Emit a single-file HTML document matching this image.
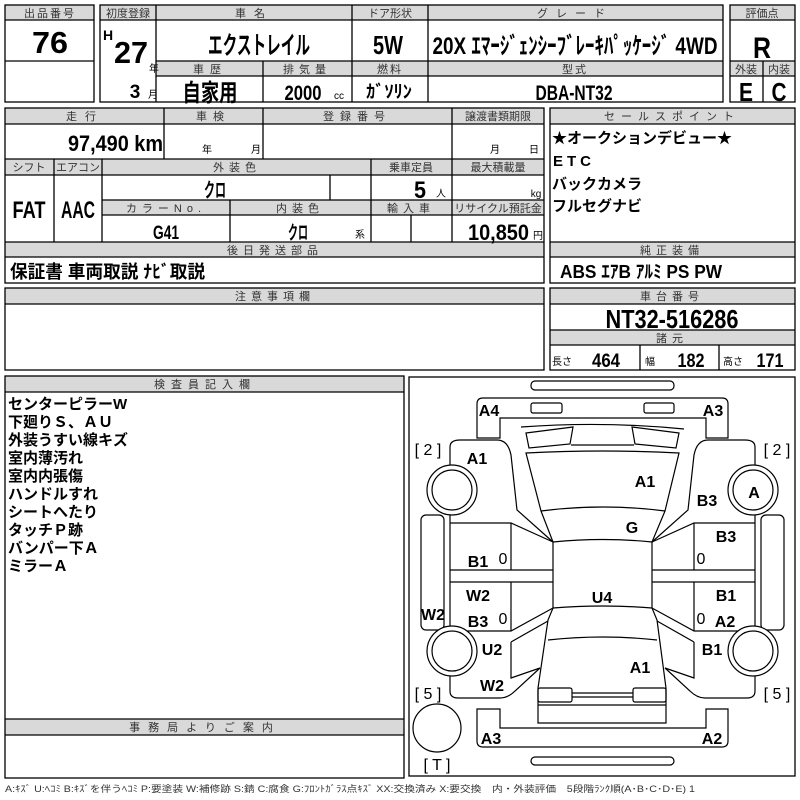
<!DOCTYPE html>
<html><head><meta charset="utf-8"><style>
html,body{margin:0;padding:0;background:#fff;}
svg{display:block;}
.h{font-family:"Liberation Sans","Noto Sans CJK JP",sans-serif;font-size:11px;fill:#333;text-anchor:middle;letter-spacing:2px;}
.b{font-family:"Liberation Sans","Noto Sans CJK JP",sans-serif;font-weight:bold;fill:#000;text-anchor:middle;}
.t{font-family:"Liberation Sans","Noto Sans CJK JP",sans-serif;font-weight:bold;font-size:15px;fill:#000;}
.s{font-family:"Liberation Sans","Noto Sans CJK JP",sans-serif;font-size:10px;fill:#000;text-anchor:middle;}
.d{font-family:"Liberation Sans",sans-serif;font-weight:bold;font-size:16px;fill:#000;text-anchor:middle;}
.dn{font-family:"Liberation Sans",sans-serif;font-size:16px;fill:#000;text-anchor:middle;}
</style></head><body>
<svg width="800" height="800" viewBox="0 0 800 800" xmlns="http://www.w3.org/2000/svg">
<g fill="#d9d9d9" stroke="none">
<rect x="5" y="5" width="89" height="15"/>
<rect x="100" y="5" width="623" height="15"/>
<rect x="156" y="61" width="567" height="15"/>
<rect x="730" y="5" width="65" height="15"/>
<rect x="730" y="61" width="65" height="15"/>
<rect x="5" y="108" width="539" height="16"/>
<rect x="5" y="159" width="539" height="16"/>
<rect x="102" y="200" width="442" height="15"/>
<rect x="5" y="242" width="539" height="15"/>
<rect x="550" y="108" width="245" height="16"/>
<rect x="550" y="242" width="245" height="15"/>
<rect x="5" y="288" width="539" height="16"/>
<rect x="550" y="288" width="245" height="16"/>
<rect x="550" y="330" width="245" height="15"/>
<rect x="5" y="376" width="399" height="16"/>
<rect x="5" y="719" width="399" height="16"/>
</g>
<g fill="none" stroke="#000" stroke-width="1.3">
<rect x="5" y="5" width="89" height="97"/>
<line x1="5" y1="20" x2="94" y2="20"/><line x1="5" y1="61" x2="94" y2="61"/>
<rect x="100" y="5" width="623" height="97"/>
<line x1="100" y1="20" x2="723" y2="20"/>
<line x1="156" y1="61" x2="723" y2="61"/><line x1="156" y1="76" x2="723" y2="76"/>
<line x1="156" y1="5" x2="156" y2="102"/><line x1="352" y1="5" x2="352" y2="102"/>
<line x1="428" y1="5" x2="428" y2="102"/><line x1="263" y1="61" x2="263" y2="102"/>
<rect x="730" y="5" width="65" height="97"/>
<line x1="730" y1="20" x2="795" y2="20"/><line x1="730" y1="61" x2="795" y2="61"/><line x1="730" y1="76" x2="795" y2="76"/>
<line x1="763" y1="61" x2="763" y2="102"/>
<rect x="5" y="108" width="539" height="175"/>
<line x1="5" y1="124" x2="544" y2="124"/><line x1="5" y1="159" x2="544" y2="159"/>
<line x1="5" y1="175" x2="544" y2="175"/><line x1="102" y1="200" x2="544" y2="200"/>
<line x1="102" y1="215" x2="544" y2="215"/><line x1="5" y1="242" x2="544" y2="242"/>
<line x1="5" y1="257" x2="544" y2="257"/>
<line x1="164" y1="108" x2="164" y2="159"/><line x1="263" y1="108" x2="263" y2="159"/>
<line x1="452" y1="108" x2="452" y2="242"/><line x1="54" y1="159" x2="54" y2="242"/>
<line x1="102" y1="159" x2="102" y2="242"/><line x1="371" y1="159" x2="371" y2="242"/>
<line x1="330" y1="175" x2="330" y2="200"/><line x1="230" y1="200" x2="230" y2="242"/>
<line x1="411" y1="215" x2="411" y2="242"/>
<rect x="550" y="108" width="245" height="175"/>
<line x1="550" y1="124" x2="795" y2="124"/><line x1="550" y1="242" x2="795" y2="242"/><line x1="550" y1="257" x2="795" y2="257"/>
<rect x="5" y="288" width="539" height="82"/><line x1="5" y1="304" x2="544" y2="304"/>
<rect x="550" y="288" width="245" height="82"/><line x1="550" y1="304" x2="795" y2="304"/>
<line x1="550" y1="330" x2="795" y2="330"/><line x1="550" y1="345" x2="795" y2="345"/>
<line x1="640" y1="345" x2="640" y2="370"/><line x1="719" y1="345" x2="719" y2="370"/>
<rect x="5" y="376" width="399" height="402"/>
<line x1="5" y1="392" x2="404" y2="392"/><line x1="5" y1="719" x2="404" y2="719"/><line x1="5" y1="735" x2="404" y2="735"/>
<rect x="409" y="377" width="386" height="399"/>
</g>
<!-- headers -->
<text class="h" x="50" y="17">出品番号</text>
<text class="h" x="128" y="17" style="letter-spacing:0">初度登録</text>
<text class="h" x="254" y="17" style="letter-spacing:8px">車名</text>
<text class="h" x="390" y="17" style="letter-spacing:0">ドア形状</text>
<text class="h" x="575" y="17" style="letter-spacing:8px">グレード</text>
<text class="h" x="762" y="17" style="letter-spacing:0">評価点</text>
<text class="h" x="210" y="73" style="letter-spacing:6px">車歴</text>
<text class="h" x="307" y="73" style="letter-spacing:5px">排気量</text>
<text class="h" x="390" y="73">燃料</text>
<text class="h" x="575" y="73">型式</text>
<text class="h" x="746" y="73" style="letter-spacing:0">外装</text>
<text class="h" x="779" y="73" style="letter-spacing:0">内装</text>
<text class="b" x="50" y="53" font-size="31" textLength="36" lengthAdjust="spacingAndGlyphs">76</text>
<text class="b" x="108" y="40" font-size="14">H</text>
<text class="b" x="131" y="63" font-size="31" textLength="34" lengthAdjust="spacingAndGlyphs">27</text>
<text class="s" x="154" y="72">年</text>
<text class="b" x="135" y="98" font-size="19">3</text>
<text class="s" x="153" y="98">月</text>
<text class="b" x="259" y="54" font-size="25" textLength="102" lengthAdjust="spacingAndGlyphs">エクストレイル</text>
<text class="b" x="388" y="54" font-size="26" textLength="30" lengthAdjust="spacingAndGlyphs">5W</text>
<text class="b" x="575" y="54" font-size="24" textLength="285" lengthAdjust="spacingAndGlyphs">20X ｴﾏｰｼﾞｪﾝｼｰﾌﾞﾚｰｷﾊﾟｯｹｰｼﾞ 4WD</text>
<text class="b" x="762" y="58" font-size="30" textLength="18" lengthAdjust="spacingAndGlyphs">R</text>
<text class="b" x="210" y="101" font-size="24" textLength="55" lengthAdjust="spacingAndGlyphs">自家用</text>
<text class="b" x="303" y="100" font-size="21" textLength="37" lengthAdjust="spacingAndGlyphs">2000</text>
<text class="s" x="339" y="99">cc</text>
<text class="b" x="389" y="98" font-size="18" textLength="46" lengthAdjust="spacingAndGlyphs">ｶﾞｿﾘﾝ</text>
<text class="b" x="574" y="100" font-size="21" textLength="77" lengthAdjust="spacingAndGlyphs">DBA-NT32</text>
<text class="b" x="746" y="101" font-size="26" textLength="14" lengthAdjust="spacingAndGlyphs">E</text>
<text class="b" x="779" y="101" font-size="26" textLength="15" lengthAdjust="spacingAndGlyphs">C</text>
<!-- section 2 -->
<text class="h" x="85" y="120" style="letter-spacing:8px">走行</text>
<text class="h" x="213" y="120" style="letter-spacing:6px">車検</text>
<text class="h" x="357" y="120" style="letter-spacing:6px">登録番号</text>
<text class="h" x="498" y="120" style="letter-spacing:0">譲渡書類期限</text>
<text class="h" x="672" y="120" style="letter-spacing:6px">セールスポイント</text>
<text class="b" x="68" y="151" font-size="22" style="text-anchor:start" textLength="95" lengthAdjust="spacingAndGlyphs">97,490 km</text>
<text class="s" x="207" y="153">年</text><text class="s" x="256" y="153">月</text>
<text class="s" x="495" y="153">月</text><text class="s" x="534" y="153">日</text>
<text class="h" x="29" y="171" style="letter-spacing:0">シフト</text>
<text class="h" x="78" y="171" style="letter-spacing:0">エアコン</text>
<text class="h" x="237" y="171" style="letter-spacing:5px">外装色</text>
<text class="h" x="411" y="171" style="letter-spacing:0">乗車定員</text>
<text class="h" x="498" y="171" style="letter-spacing:0">最大積載量</text>
<text class="b" x="215" y="197" font-size="20" textLength="22" lengthAdjust="spacingAndGlyphs">クロ</text>
<text class="b" x="420" y="198" font-size="24" textLength="12" lengthAdjust="spacingAndGlyphs">5</text>
<text class="s" x="441" y="197">人</text>
<text class="s" x="536" y="197">kg</text>
<text class="b" x="29" y="218" font-size="24" textLength="33" lengthAdjust="spacingAndGlyphs">FAT</text>
<text class="b" x="78" y="218" font-size="24" textLength="34" lengthAdjust="spacingAndGlyphs">AAC</text>
<text class="h" x="166" y="212" style="letter-spacing:5px">カラーNo.</text>
<text class="h" x="300" y="212" style="letter-spacing:5px">内装色</text>
<text class="h" x="411" y="212" style="letter-spacing:5px">輸入車</text>
<text class="h" x="498" y="212" style="letter-spacing:0">リサイクル預託金</text>
<text class="b" x="166" y="239" font-size="19" textLength="26" lengthAdjust="spacingAndGlyphs">G41</text>
<text class="b" x="298" y="239" font-size="19" textLength="20" lengthAdjust="spacingAndGlyphs">クロ</text>
<text class="s" x="360" y="238">系</text>
<text class="b" x="468" y="240" font-size="22" style="text-anchor:start" textLength="61" lengthAdjust="spacingAndGlyphs">10,850</text>
<text class="s" x="538" y="239">円</text>
<text class="h" x="275" y="254" style="letter-spacing:5px">後日発送部品</text>
<text class="b" x="10" y="278" font-size="18" style="text-anchor:start" textLength="195" lengthAdjust="spacingAndGlyphs">保証書 車両取説 ﾅﾋﾞ取説</text>
<text class="t" x="552" y="143">★オークションデビュー★</text>
<text class="t" x="553" y="166" style="letter-spacing:4px">ETC</text>
<text class="t" x="552" y="189">バックカメラ</text>
<text class="t" x="552" y="211">フルセグナビ</text>
<text class="h" x="672" y="254" style="letter-spacing:5px">純正装備</text>
<text class="b" x="560" y="278" font-size="18" style="text-anchor:start" textLength="162" lengthAdjust="spacingAndGlyphs">ABS ｴｱB ｱﾙﾐ PS PW</text>
<text class="h" x="275" y="300" style="letter-spacing:5px">注意事項欄</text>
<text class="h" x="672" y="300" style="letter-spacing:5px">車台番号</text>
<text class="b" x="672" y="328" font-size="26" textLength="133" lengthAdjust="spacingAndGlyphs">NT32-516286</text>
<text class="h" x="672" y="342" style="letter-spacing:5px">諸元</text>
<text class="s" x="562" y="365">長さ</text><text class="b" x="606" y="367" font-size="19" textLength="28" lengthAdjust="spacingAndGlyphs">464</text>
<text class="s" x="650" y="365">幅</text><text class="b" x="691" y="367" font-size="19" textLength="27" lengthAdjust="spacingAndGlyphs">182</text>
<text class="s" x="733" y="365">高さ</text><text class="b" x="770" y="367" font-size="19" textLength="27" lengthAdjust="spacingAndGlyphs">171</text>
<!-- inspector -->
<text class="h" x="205" y="388" style="letter-spacing:6px">検査員記入欄</text>
<text class="t" x="8" y="409">センターピラーW</text>
<text class="t" x="8" y="427">下廻りＳ、ＡＵ</text>
<text class="t" x="8" y="445">外装うすい線キズ</text>
<text class="t" x="8" y="463">室内薄汚れ</text>
<text class="t" x="8" y="481">室内内張傷</text>
<text class="t" x="8" y="499">ハンドルすれ</text>
<text class="t" x="8" y="517">シートへたり</text>
<text class="t" x="8" y="535">タッチＰ跡</text>
<text class="t" x="8" y="553">バンパー下Ａ</text>
<text class="t" x="8" y="571">ミラーＡ</text>
<text class="h" x="205" y="731" style="letter-spacing:8px">事務局よりご案内</text>
<text x="5" y="792" font-family="Liberation Sans,Noto Sans CJK JP,sans-serif" font-size="9" fill="#333" textLength="690" lengthAdjust="spacingAndGlyphs">A:ｷｽﾞ U:ﾍｺﾐ B:ｷｽﾞを伴うﾍｺﾐ P:要塗装 W:補修跡 S:錆 C:腐食 G:ﾌﾛﾝﾄｶﾞﾗｽ点ｷｽﾞ XX:交換済み X:要交換　内・外装評価　5段階ﾗﾝｸ順(A･B･C･D･E) 1</text>
<!-- car diagram -->
<g transform="translate(405,375)" fill="none" stroke="#000" stroke-width="1.2">
<rect x="126" y="6" width="143" height="9" rx="4"/>
<path d="M72,63 L72,29 Q72,23 78,23 L317,23 Q323,23 323,29 L323,63 L301,63 L301,43 L95,43 L95,63 Z"/>
<rect x="126" y="28" width="31" height="10" rx="2"/>
<rect x="239" y="28" width="30" height="10" rx="2"/>
<path d="M116,52 Q198,46 279,54"/>
<polygon points="121,58 168,52 165,69 124,73"/>
<polygon points="274,58 227,52 230,69 271,73"/>
<line x1="166" y1="70" x2="229" y2="70"/>
<path d="M121,78 Q198,74 274,78 L260,136 Q198,128 136,136 Z"/>
<path d="M136,136 L148,167 Q198,162 247,167 L260,136"/>
<path d="M148,167 L148,233 Q198,229 247,233 L247,167"/>
<path d="M148,233 L143,245 L133,313 L133,348 L261,348 L261,313 L252,245 L247,233"/>
<path d="M143,265 Q198,259 252,265"/>
<rect x="133" y="313" width="34" height="14" rx="2"/>
<rect x="228" y="313" width="33" height="14" rx="2"/>
<line x1="167" y1="318" x2="228" y2="318"/><line x1="167" y1="322" x2="228" y2="322"/>
<line x1="133" y1="330" x2="261" y2="330"/>
<path d="M72,334 L95,334 L95,353 L301,353 L301,334 L323,334 L323,366 Q323,372 317,372 L78,372 Q72,372 72,366 Z"/>
<rect x="126" y="382" width="143" height="8" rx="4"/>
<g id="side">
<path d="M45,90 L45,72 Q45,65 55,65 L92,65 Q103,65 106,80 L112,135 L148,167"/>
<path d="M45,140 L45,262"/>
<path d="M45,148 L106,148 L148,167 M106,148 L106,195 M45,195 L148,195 M45,207 L148,207 M106,207 L106,256 M45,256 L106,256 L148,233"/>
<path d="M106,267 L143,246 M106,267 L106,303 L135,293"/>
<path d="M45,298 L45,316 Q45,323 53,323 L95,323 Q103,323 110,316 L135,293"/>
<rect x="16" y="140" width="23" height="115" rx="5"/>
<circle cx="47" cy="115" r="25" fill="#fff"/><circle cx="47" cy="115" r="20"/>
<circle cx="47" cy="276" r="25" fill="#fff"/><circle cx="47" cy="276" r="20"/>
</g>
<use href="#side" transform="translate(395,0) scale(-1,1)"/>
<circle cx="32" cy="353" r="24"/>
</g>
<g transform="translate(405,375)">
<text class="dn" x="23" y="80">[ 2 ]</text>
<text class="dn" x="372" y="80">[ 2 ]</text>
<text class="dn" x="23" y="324">[ 5 ]</text>
<text class="dn" x="372" y="324">[ 5 ]</text>
<text class="dn" x="32" y="395">[ T ]</text>
<text class="d" x="84" y="41">A4</text>
<text class="d" x="308" y="41">A3</text>
<text class="d" x="72" y="89">A1</text>
<text class="d" x="240" y="112">A1</text>
<text class="d" x="302" y="131">B3</text>
<text class="d" x="349" y="123">A</text>
<text class="d" x="227" y="158">G</text>
<text class="d" x="321" y="167">B3</text>
<text class="d" x="73" y="192">B1</text>
<text class="dn" x="98" y="189" font-size="13">0</text>
<text class="dn" x="296" y="189" font-size="13">0</text>
<text class="d" x="73" y="226">W2</text>
<text class="d" x="321" y="226">B1</text>
<text class="d" x="197" y="228">U4</text>
<text class="d" x="28" y="245">W2</text>
<text class="d" x="73" y="252">B3</text>
<text class="dn" x="98" y="249" font-size="13">0</text>
<text class="dn" x="296" y="249" font-size="13">0</text>
<text class="d" x="320" y="252">A2</text>
<text class="d" x="87" y="280">U2</text>
<text class="d" x="307" y="280">B1</text>
<text class="d" x="235" y="298">A1</text>
<text class="d" x="87" y="316">W2</text>
<text class="d" x="86" y="369">A3</text>
<text class="d" x="307" y="369">A2</text>
</g>
</svg>
</body></html>
